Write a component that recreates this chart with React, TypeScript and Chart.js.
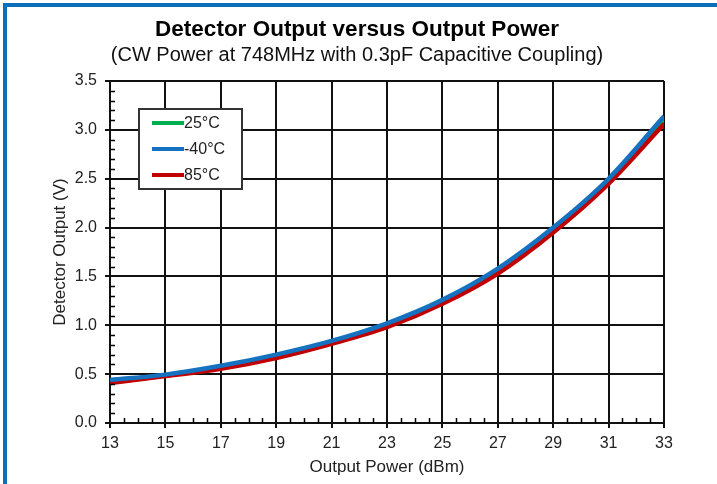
import React, { useEffect, useRef } from "react";
import { Chart, registerables } from "chart.js";

Chart.register(...registerables);

// ---- data ----
const POWER_DBM = [13, 15, 17, 19, 21, 23, 25, 27, 29, 31, 33];
const OUT_25C = [0.43, 0.49, 0.575, 0.69, 0.83, 1.005, 1.245, 1.565, 1.98, 2.48, 3.11];
const OUT_M40C = [0.44, 0.495, 0.585, 0.70, 0.84, 1.02, 1.26, 1.58, 2.0, 2.5, 3.14];
const OUT_85C = [0.41, 0.48, 0.555, 0.665, 0.81, 0.98, 1.22, 1.53, 1.95, 2.45, 3.06];
const SERIES_LABELS = ["25°C", "-40°C", "85°C"];
const X_TICKS = [13, 15, 17, 19, 21, 23, 25, 27, 29, 31, 33];
const Y_TICKS = [0, 0.5, 1.0, 1.5, 2.0, 2.5, 3.0, 3.5];
const X_MINOR_STEP = 0.5;
const Y_MINOR_STEP = 0.1;

const FONT = "'Liberation Sans', Arial, sans-serif";

const minorTicksPlugin = {
  id: "minorTicks",
  afterDraw(chart: any) {
    const { ctx, chartArea } = chart;
    const xs = chart.scales.x;
    const ys = chart.scales.y;
    ctx.save();
    ctx.strokeStyle = "#000";
    ctx.lineWidth = 1.5;
    ctx.beginPath();
    for (let v = xs.min + X_MINOR_STEP; v < xs.max - 1e-6; v += X_MINOR_STEP) {
      if (X_TICKS.some((t) => Math.abs(t - v) < 1e-6)) continue;
      const px = Math.round(xs.getPixelForValue(v)) + 0.5;
      ctx.moveTo(px, chartArea.bottom);
      ctx.lineTo(px, chartArea.bottom - 5);
    }
    for (let v = ys.min + Y_MINOR_STEP; v < ys.max - 1e-6; v += Y_MINOR_STEP) {
      if (Y_TICKS.some((t) => Math.abs(t - v) < 1e-6)) continue;
      const py = Math.round(ys.getPixelForValue(v)) + 0.5;
      ctx.moveTo(chartArea.left, py);
      ctx.lineTo(chartArea.left + 5, py);
    }
    ctx.stroke();
    ctx.restore();
  },
};

const boxLegendPlugin = {
  id: "boxLegend",
  afterDraw(chart: any) {
    const { ctx, chartArea } = chart;
    const x0 = chartArea.left + 29;
    const y0 = chartArea.top + 28;
    const w = 103;
    const h = 80;
    ctx.save();
    ctx.fillStyle = "#fff";
    ctx.fillRect(x0, y0, w, h);
    ctx.strokeStyle = "#333";
    ctx.lineWidth = 2;
    ctx.strokeRect(x0, y0, w, h);
    chart.data.datasets.forEach((ds: any, i: number) => {
      const y = y0 + 14 + i * 26;
      ctx.strokeStyle = ds.borderColor;
      ctx.lineWidth = 4;
      ctx.lineCap = "butt";
      ctx.beginPath();
      ctx.moveTo(x0 + 13, y);
      ctx.lineTo(x0 + 45, y);
      ctx.stroke();
      ctx.fillStyle = "#222";
      ctx.font = `16px ${FONT}`;
      ctx.textBaseline = "middle";
      ctx.textAlign = "left";
      ctx.fillText(ds.label, x0 + 45, y + 1);
    });
    ctx.restore();
  },
};

export default function App() {
  const ref = useRef<HTMLCanvasElement | null>(null);

  useEffect(() => {
    document.body.style.margin = "0";
    const mk = (vals: number[]) => POWER_DBM.map((x, i) => ({ x, y: vals[i] }));
    const chart = new Chart(ref.current as HTMLCanvasElement, {
      type: "line",
      data: {
        datasets: [
          { label: SERIES_LABELS[0], data: mk(OUT_25C), borderColor: "#00b050", order: 2 },
          { label: SERIES_LABELS[1], data: mk(OUT_M40C), borderColor: "#1572c0", order: 0 },
          { label: SERIES_LABELS[2], data: mk(OUT_85C), borderColor: "#c00000", order: 1 },
        ],
      },
      options: {
        responsive: false,
        animation: false,
        devicePixelRatio: 1,
        layout: { padding: { left: 50, right: 53, top: 0, bottom: 6 } },
        elements: {
          line: { borderWidth: 4.5, cubicInterpolationMode: "monotone", fill: false },
          point: { radius: 0, hoverRadius: 0 },
        },
        plugins: {
          legend: { display: false },
          tooltip: { enabled: false },
          title: {
            display: true,
            text: "Detector Output versus Output Power",
            color: "#000",
            font: { family: FONT, size: 22.5, weight: "bold" },
            padding: { top: 16, bottom: 0 },
          },
          subtitle: {
            display: true,
            text: "(CW Power at 748MHz with 0.3pF Capacitive Coupling)",
            color: "#111",
            font: { family: FONT, size: 20 },
            padding: { top: 0, bottom: 14 },
          },
        },
        scales: {
          x: {
            type: "linear",
            min: 13,
            max: 33,
            afterBuildTicks: (s: any) => {
              s.ticks = X_TICKS.map((v) => ({ value: v }));
            },
            afterFit: (s: any) => {
              s.height = 55;
            },
            ticks: {
              color: "#222",
              font: { family: FONT, size: 16 },
              padding: 6,
              maxRotation: 0,
              callback: (v: any) => String(v),
            },
            grid: { color: "#111", lineWidth: 2, tickLength: 5, tickColor: "#111" },
            border: { color: "#111", width: 2 },
            title: {
              display: true,
              text: "Output Power (dBm)",
              color: "#222",
              font: { family: FONT, size: 17 },
              padding: { top: 0, bottom: 0 },
            },
          },
          y: {
            type: "linear",
            min: 0,
            max: 3.5,
            afterBuildTicks: (s: any) => {
              s.ticks = Y_TICKS.map((v) => ({ value: v }));
            },
            afterFit: (s: any) => {
              s.width = 60;
            },
            ticks: {
              color: "#222",
              font: { family: FONT, size: 16 },
              padding: 8,
              callback: (v: any) => Number(v).toFixed(1),
            },
            grid: { color: "#111", lineWidth: 2, tickLength: 5, tickColor: "#111" },
            border: { color: "#111", width: 2 },
            title: {
              display: true,
              text: "Detector Output (V)",
              color: "#222",
              font: { family: FONT, size: 17 },
              padding: { top: 0, bottom: 0 },
            },
          },
        },
      },
      plugins: [minorTicksPlugin, boxLegendPlugin],
    } as any);
    return () => chart.destroy();
  }, []);

  return (
    <div style={{ position: "relative", width: 717, height: 484, background: "#fff" }}>
      <canvas ref={ref} width={717} height={484} style={{ position: "absolute", left: 0, top: 0 }} />
      <div style={{ position: "absolute", left: 3, top: 3, width: 4, height: 481, background: "#0b6fba" }} />
      <div style={{ position: "absolute", left: 3, top: 3, width: 714, height: 4, background: "#0b6fba" }} />
    </div>
  );
}
